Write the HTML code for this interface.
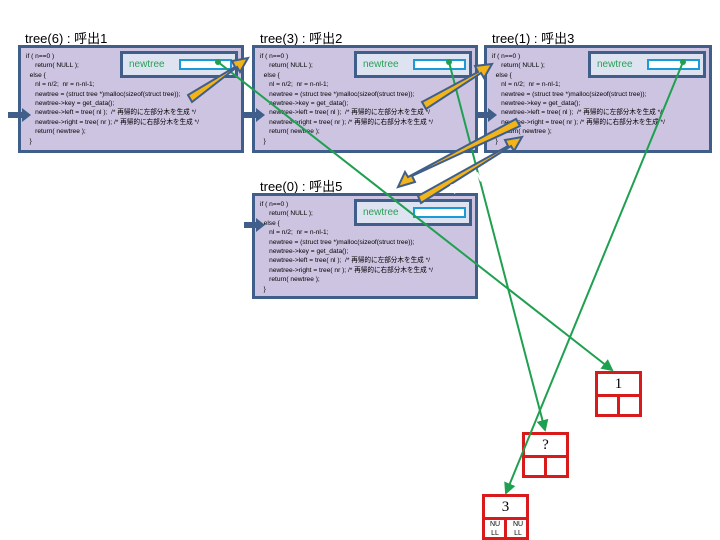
<!DOCTYPE html>
<html><head><meta charset="utf-8"><style>
body{margin:0;width:720px;height:540px;background:#fff;overflow:hidden;position:relative;font-family:"Liberation Sans","Noto Sans CJK JP",sans-serif}
.t{position:absolute;font-size:13px;color:#000}
.box{position:absolute;background:#ccc4e0;border:3px solid #3f5f8a;box-sizing:border-box}
.code{position:absolute;left:5px;top:4px;font-size:6.6px;line-height:9.4px;white-space:pre;color:#000;font-family:"Liberation Sans Narrow","Liberation Sans","Noto Sans CJK JP",sans-serif}
.nt{position:absolute;right:3px;top:3px;width:118px;height:27px;background:#dde3f0;border:3px solid #3f5f8a;box-sizing:border-box;color:#2aa055;font-size:10px}
.nt span{position:absolute;left:6px;top:5px}
.nt i{position:absolute;left:56px;top:5px;width:53px;height:11px;background:#fff;border:2px solid #1a9ad6;box-sizing:border-box}
.node{position:absolute;width:47px;height:46px;border:3px solid #d91a1a;box-sizing:border-box;background:#fff}
.node .v{position:absolute;left:0;right:0;top:0;height:20px;border-bottom:3px solid #d91a1a;text-align:center;font-size:15px;line-height:20px;font-family:"Liberation Serif",serif}
.node .l{position:absolute;left:19px;top:20px;bottom:0;border-left:3px solid #d91a1a}
.nl{position:absolute;top:23px;font-size:7px;line-height:9px;text-align:center;width:18px}
</style></head><body>
<div class="t" style="left:25px;top:28px">tree(6) : 呼出1</div>
<div class="t" style="left:260px;top:28px">tree(3) : 呼出2</div>
<div class="t" style="left:492px;top:28px">tree(1) : 呼出3</div>
<div class="t" style="left:260px;top:176px">tree(0) : 呼出5</div>

<div class="box" style="left:18px;top:45px;width:226px;height:108px"><div class="code">if ( n==0 )
     return( NULL );
  else {
     nl = n/2;  nr = n-nl-1;
     newtree = (struct tree *)malloc(sizeof(struct tree));
     newtree->key = get_data();
     newtree->left = tree( nl );  /* 再帰的に左部分木を生成 */
     newtree->right = tree( nr ); /* 再帰的に右部分木を生成 */
     return( newtree );
  }</div><div class="nt"><span>newtree</span><i></i></div></div>
<div class="box" style="left:252px;top:45px;width:226px;height:108px"><div class="code">if ( n==0 )
     return( NULL );
  else {
     nl = n/2;  nr = n-nl-1;
     newtree = (struct tree *)malloc(sizeof(struct tree));
     newtree->key = get_data();
     newtree->left = tree( nl );  /* 再帰的に左部分木を生成 */
     newtree->right = tree( nr ); /* 再帰的に右部分木を生成 */
     return( newtree );
  }</div><div class="nt"><span>newtree</span><i></i></div></div>
<div class="box" style="left:484px;top:45px;width:228px;height:108px"><div class="code">if ( n==0 )
     return( NULL );
  else {
     nl = n/2;  nr = n-nl-1;
     newtree = (struct tree *)malloc(sizeof(struct tree));
     newtree->key = get_data();
     newtree->left = tree( nl );  /* 再帰的に左部分木を生成 */
     newtree->right = tree( nr ); /* 再帰的に右部分木を生成 */
     return( newtree );
  }</div><div class="nt"><span>newtree</span><i></i></div></div>
<div class="box" style="left:252px;top:193px;width:226px;height:106px"><div class="code">if ( n==0 )
     return( NULL );
  else {
     nl = n/2;  nr = n-nl-1;
     newtree = (struct tree *)malloc(sizeof(struct tree));
     newtree->key = get_data();
     newtree->left = tree( nl );  /* 再帰的に左部分木を生成 */
     newtree->right = tree( nr ); /* 再帰的に右部分木を生成 */
     return( newtree );
  }</div><div class="nt"><span>newtree</span><i></i></div></div>

<div class="node" style="left:595px;top:371px"><div class="v">1</div><div class="l"></div></div>
<div class="node" style="left:522px;top:432px"><div class="v">?</div><div class="l"></div></div>
<div class="node" style="left:482px;top:494px"><div class="v">3</div><div class="l"></div><div class="nl" style="left:1px">NU<br>LL</div><div class="nl" style="left:24px">NU<br>LL</div></div>

<svg width="720" height="540" style="position:absolute;left:0;top:0">
<defs><marker id="g" markerWidth="6" markerHeight="6" refX="5" refY="3" orient="auto"><path d="M0,0L6,3L0,6z" fill="#1fa050"/></marker></defs>
<g stroke="#1fa050" stroke-width="2" fill="none">
<line x1="218" y1="62" x2="612" y2="370" marker-end="url(#g)"/>
<line x1="449" y1="62" x2="545" y2="430" marker-end="url(#g)"/>
<line x1="683" y1="62" x2="506" y2="493" marker-end="url(#g)"/>
</g>
<g fill="#1fa050"><circle cx="218" cy="62" r="3"/><circle cx="449" cy="62" r="3"/><circle cx="683" cy="62" r="3"/></g>
<g fill="#3f5f8a">
<path d="M8,112h14v-4l9,7l-9,7v-4h-14z"/>
<path d="M244,112h12v-4l9,7l-9,7v-4h-12z"/>
<path d="M476,112h12v-4l9,7l-9,7v-4h-12z"/>
<path d="M244,222h12v-4l9,7l-9,7v-4h-12z"/>
</g>
<g fill="#f2b418" stroke="#3f5f8a" stroke-width="2">
<path d="M188,95L235,67L232,61L248,58L240,72L237,67L192,102z"/>
<path d="M422,102L478,72L475,66L492,64L484,78L481,73L426,109z"/>
<path d="M520,126L412,176L415,182L398,187L405,172L408,177L516,119z"/>
<path d="M418,196L508,146L505,140L522,137L514,151L511,146L421,203z"/>
</g>
<text x="448" y="190" transform="rotate(-25 460 180)" fill="#fff" font-size="14" font-weight="bold" font-family="Liberation Sans,sans-serif">NULL</text>
</svg>
</body></html>
